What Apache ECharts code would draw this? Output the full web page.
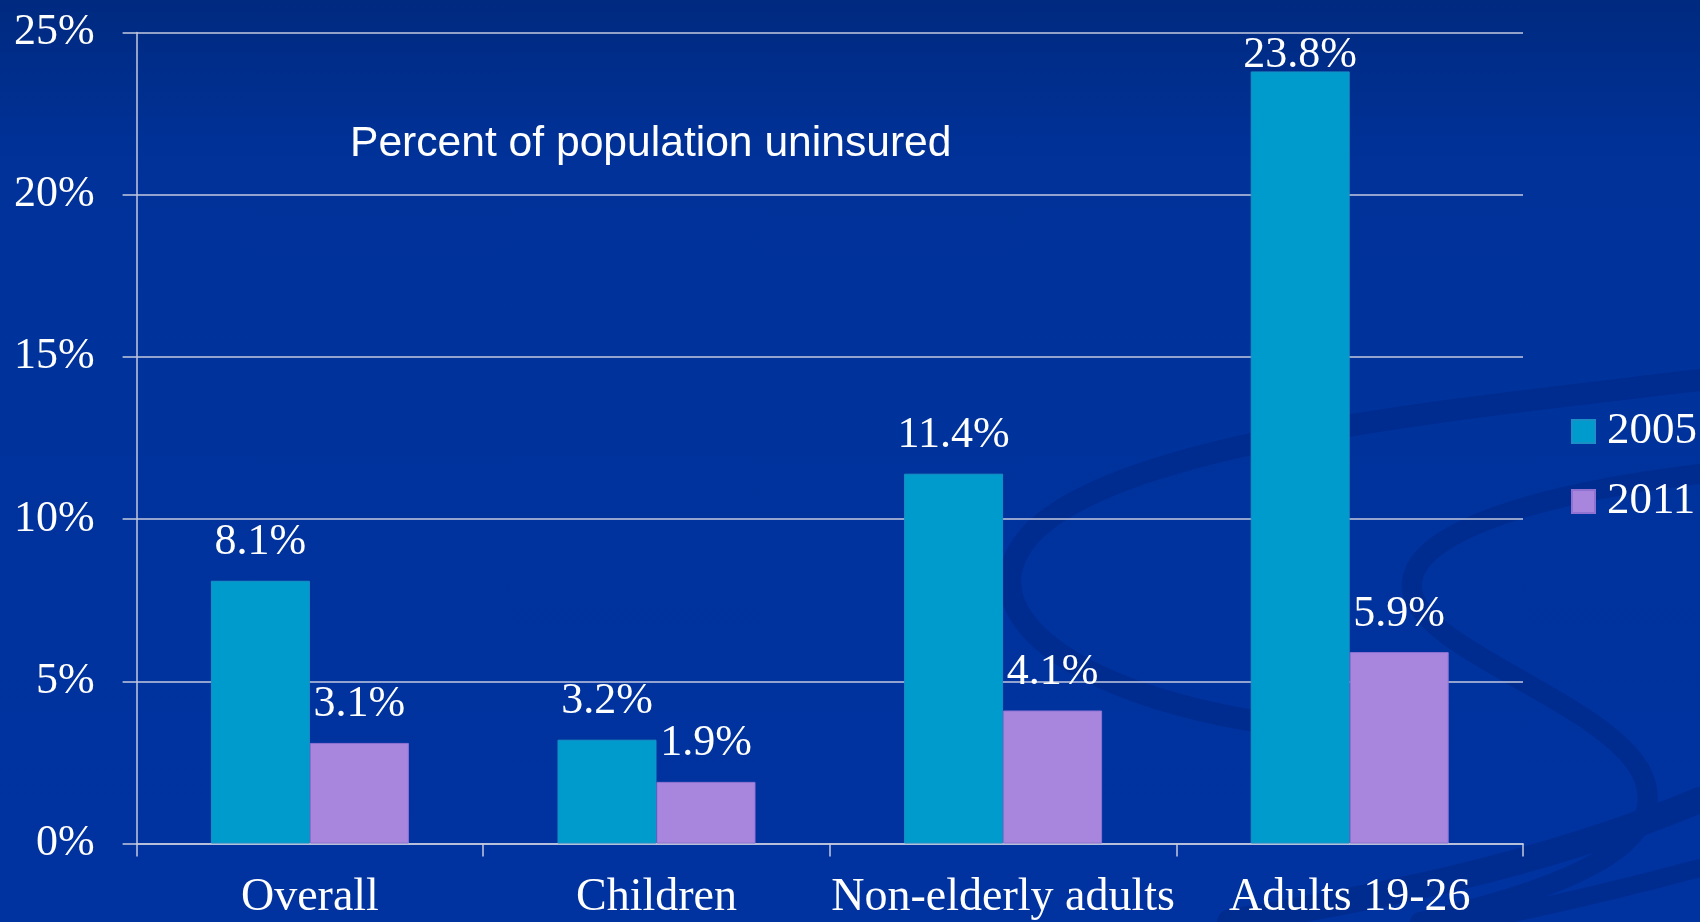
<!DOCTYPE html>
<html>
<head>
<meta charset="utf-8">
<script src="https://cdn.jsdelivr.net/npm/echarts@6/dist/echarts.min.js"></script>
<style>
html,body{margin:0;padding:0;}
#chart{width:1700px;height:922px;background:linear-gradient(to bottom,#002a80 0%,#00329a 18%,#0033a0 100%);}
</style>
</head>
<body>
<div id="chart"></div>
<script>
const categories = ['Overall', 'Children', 'Non-elderly adults', 'Adults 19-26'];
const seriesNames = ['2005', '2011'];
const values2005 = [8.1, 3.2, 11.4, 23.8];
const values2011 = [3.1, 1.9, 4.1, 5.9];
const yMin = 0, yMax = 25, yInterval = 5;
const titleText = 'Percent of population uninsured';

const serif = '"Liberation Serif", "Times New Roman", serif';
const chart = echarts.init(document.getElementById('chart'), null, {renderer: 'canvas'});

function toData(arr) {
  return arr.map(v => v > 22 ? {value: v, label: {distance: -6}} : v);
}

const labelStyle = {
  show: true, position: 'top', distance: 16,
  color: '#ffffff', fontFamily: serif, fontSize: 44,
  formatter: p => p.value.toFixed(1) + '%'
};

const swirl = '#002c90';
// decorative background swirl segments: [x1,y1,cpx1,cpy1,cpx2,cpy2,x2,y2,width]
const swirlSegs = [
  [1700,380, 1450,410, 1130,440, 1035,530, 22],
  [1035,530, 960,605, 1060,690, 1260,722, 22],
  [1700,474, 1550,492, 1405,530, 1412,590, 20],
  [1412,590, 1420,650, 1600,700, 1640,770, 20],
  [1640,770, 1680,845, 1560,890, 1420,922, 20],
  [1700,800, 1520,875, 1330,905, 1230,922, 26],
  [1700,868, 1600,895, 1520,912, 1470,922, 18]
];
const graphics = swirlSegs.map(s => ({
  type: 'bezierCurve', silent: true, z: -100,
  shape: {x1: s[0], y1: s[1], cpx1: s[2], cpy1: s[3], cpx2: s[4], cpy2: s[5], x2: s[6], y2: s[7]},
  style: {fill: null, stroke: swirl, lineWidth: s[8], lineCap: 'round'}
}));

const option = {
  backgroundColor: 'transparent',
  animation: false,
  title: {
    text: titleText, left: 345, top: 118,
    textStyle: {color: '#ffffff', fontFamily: '"Liberation Sans", Arial, sans-serif', fontSize: 42.6, fontWeight: 'normal'}
  },
  legend: {
    orient: 'vertical', left: 1566, top: 404,
    itemWidth: 23, itemHeight: 23, itemGap: 25, icon: 'rect',
    textStyle: {color: '#ffffff', fontFamily: serif, fontSize: 45, padding: [0, 0, 0, 7]},
    data: seriesNames
  },
  graphic: graphics,
  grid: {left: 136.6, right: 177, top: 32.5, bottom: 78.5, containLabel: false},
  xAxis: {
    type: 'category', data: categories,
    axisLine: {show: true, lineStyle: {color: '#c4cadf', width: 1.5}},
    axisTick: {show: true, length: 13, lineStyle: {color: '#c4cadf', width: 1.5}},
    axisLabel: {color: '#ffffff', fontFamily: serif, fontSize: 46, margin: 31, interval: 0}
  },
  yAxis: {
    type: 'value', min: yMin, max: yMax, interval: yInterval,
    axisLine: {show: true, lineStyle: {color: '#c4cadf', width: 1.5}},
    axisTick: {show: true, length: 14, lineStyle: {color: '#c4cadf', width: 1.5}},
    splitLine: {show: true, lineStyle: {color: '#c4cadf', width: 1.5}},
    axisLabel: {color: '#ffffff', fontFamily: serif, fontSize: 44, margin: 42, formatter: '{value}%'}
  },
  series: [
    {name: seriesNames[0], type: 'bar', data: toData(values2005), barWidth: 99, barGap: '0%',
     itemStyle: {color: '#009bcd', borderColor: '#1a90c6', borderWidth: 1}, label: labelStyle},
    {name: seriesNames[1], type: 'bar', data: toData(values2011), barWidth: 99, barGap: '0%',
     itemStyle: {color: '#a886de', borderColor: '#8f72d2', borderWidth: 1}, label: labelStyle}
  ]
};
chart.setOption(option);
</script>
</body>
</html>
